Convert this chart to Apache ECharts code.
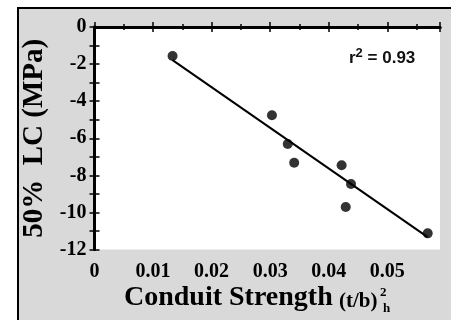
<!DOCTYPE html>
<html>
<head>
<meta charset="utf-8">
<script src="https://cdn.jsdelivr.net/npm/echarts@6/dist/echarts.min.js"></script>
<style>
  html, body { margin: 0; padding: 0; background: #fff; }
  #chart { width: 451px; height: 320px; }
</style>
</head>
<body>
<div id="chart"></div>
<script>
// Conduit strength vs. 50% loss of conductivity
const conduitStrength = [0.01333, 0.0303, 0.0330, 0.0341, 0.0422, 0.0438, 0.0429, 0.0569];
const lcPressure = [-1.56, -4.76, -6.31, -7.32, -7.46, -8.47, -9.71, -11.13];
// regression line end points
const fitX = [0.01333, 0.0569];
const fitY = [-1.79, -11.33];
const rSquared = '0.93';

const points = conduitStrength.map((x, i) => [x, lcPressure[i]]);
const fitLine = fitX.map((x, i) => [x, fitY[i]]);

const serif = '"Liberation Serif", "Times New Roman", serif';
const sans = '"Liberation Sans", Arial, sans-serif';

const chart = echarts.init(document.getElementById('chart'), null, { renderer: 'canvas' });

const tickLabel = { color: '#000', fontFamily: serif, fontWeight: 'bold', fontSize: 20 };
const serifBold = size => ({ fontFamily: serif, fontWeight: 'bold', fontSize: size, fill: '#000' });

chart.setOption({
  backgroundColor: '#fff',
  animation: false,
  graphic: [
    {
      type: 'rect', z: -10, silent: true,
      shape: { x: 18, y: 8, width: 460, height: 340 },
      style: { fill: '#d9d9d9', stroke: '#000', lineWidth: 2 }
    },
    {
      type: 'text', z: 10,
      left: 349, top: 47,
      style: {
        text: '{r|r}{s|2}{r| = ' + rSquared + '}',
        rich: {
          r: { fontFamily: sans, fontWeight: 'bold', fontSize: 17, fill: '#111', verticalAlign: 'bottom', lineHeight: 20 },
          s: { fontFamily: sans, fontWeight: 'bold', fontSize: 13, fill: '#111', verticalAlign: 'top', lineHeight: 20 }
        }
      }
    },
    // x-axis title: main words, then the (t/b) term with its exponent and subscript
    { type: 'text', z: 10, left: 124, top: 284, style: Object.assign({ text: 'Conduit Strength' }, serifBold(28)) },
    { type: 'text', z: 10, left: 339, top: 291, style: Object.assign({ text: '(t/b)' }, serifBold(21)) },
    { type: 'text', z: 10, left: 380, top: 286, style: Object.assign({ text: '2' }, serifBold(13)) },
    { type: 'text', z: 10, left: 383, top: 302, style: Object.assign({ text: 'h' }, serifBold(13)) }
  ],
  grid: {
    left: 94.5, right: 11, top: 27, bottom: 70.5,
    show: true, backgroundColor: '#fff', borderWidth: 0
  },
  xAxis: [
    {
      type: 'value', position: 'bottom', min: 0, max: 0.059, interval: 0.01,
      axisLine: { show: true, lineStyle: { color: '#000', width: 3 } },
      axisTick: { show: true, inside: true, length: 5, lineStyle: { color: '#000', width: 1.5 } },
      minorTick: { show: true, splitNumber: 2, length: 3, lineStyle: { color: '#000', width: 1.5 } },
      axisLabel: Object.assign({ margin: 12, showMaxLabel: false, formatter: v => (v === 0 ? '0' : String(+v.toFixed(2))) }, tickLabel),
      splitLine: { show: false }
    },
    {
      type: 'value', position: 'top', min: 0, max: 0.059, interval: 0.01,
      axisLine: { show: true, lineStyle: { color: '#000', width: 3 } },
      axisTick: { show: true, inside: true, length: 5, lineStyle: { color: '#000', width: 1.5 } },
      minorTick: { show: true, splitNumber: 2, length: 3, lineStyle: { color: '#000', width: 1.5 } },
      axisLabel: { show: false },
      splitLine: { show: false }
    }
  ],
  yAxis: [
    {
      type: 'value', position: 'left', min: -12, max: 0, interval: 2,
      name: '50%  LC (MPa)', nameLocation: 'middle', nameGap: 43, nameRotate: 90,
      nameTextStyle: { color: '#000', fontFamily: serif, fontWeight: 'bold', fontSize: 29 },
      axisLine: { show: true, lineStyle: { color: '#000', width: 3 } },
      axisTick: { show: true, inside: true, length: 5, lineStyle: { color: '#000', width: 1.5 } },
      minorTick: { show: true, splitNumber: 2, length: 5, lineStyle: { color: '#000', width: 1.5 } },
      axisLabel: Object.assign({ margin: 8 }, tickLabel),
      splitLine: { show: false }
    },
    {
      type: 'value', position: 'right', min: -12, max: 0, interval: 2,
      axisLine: { show: true, lineStyle: { color: '#000', width: 3 } },
      axisTick: { show: true, inside: true, length: 5, lineStyle: { color: '#000', width: 1.5 } },
      minorTick: { show: true, splitNumber: 2, length: 5, lineStyle: { color: '#000', width: 1.5 } },
      axisLabel: { show: false },
      splitLine: { show: false }
    }
  ],
  series: [
    {
      type: 'line', data: fitLine, xAxisIndex: 0, yAxisIndex: 0,
      symbol: 'none', lineStyle: { color: '#000', width: 2 }, z: 2
    },
    {
      type: 'scatter', data: points, xAxisIndex: 0, yAxisIndex: 0,
      symbol: 'circle', symbolSize: 10, itemStyle: { color: '#000' }, z: 3
    }
  ]
});
</script>
</body>
</html>
